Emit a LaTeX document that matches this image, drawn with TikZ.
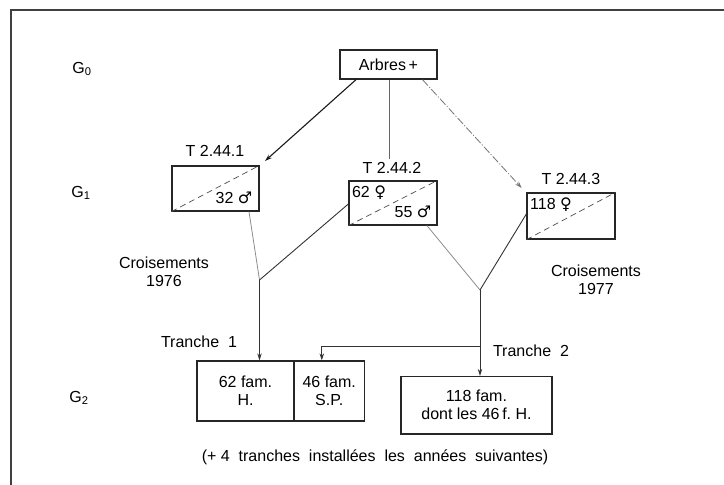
\documentclass[tikz,border=0pt]{standalone}
\usepackage{fontspec}
\setmainfont{Liberation Sans}
\newfontfamily\symfont{DejaVu Sans}
\usetikzlibrary{arrows.meta,calc}
\begin{document}
\begin{tikzpicture}[x=1pt,y=-1pt,
  font=\fontsize{16}{18}\selectfont,
  box/.style={draw=black!85, line width=1.3pt, inner sep=0pt, align=center},
  diag/.style={dash pattern=on 6pt off 4pt, line width=0.7pt, black!70},
  conn/.style={line width=0.9pt, black!80},
  faint/.style={line width=0.8pt, black!45},
  tip/.style={-{Stealth[length=7pt,width=4.5pt]}},
  lab/.style={inner sep=0pt, align=center}
]
\useasboundingbox (0,0) rectangle (724,485);
\draw[line width=1.2pt, black!75] (724,10) -- (11,10) -- (11,485);

% generation labels
\node[lab] (g0) at (82,69) {G\textsubscript{0}};
\node[lab] (g1) at (81,193) {G\textsubscript{1}};
\node[lab] (g2) at (79,398) {G\textsubscript{2}};

% boxes
\node[box, minimum width=97pt, minimum height=29pt] (arbres) at (388.5,64.5) {Arbres\,+};
\node[box, minimum width=87pt, minimum height=45pt] (b1) at (215.5,188.5) {};
\node[box, minimum width=88pt, minimum height=44pt] (b2) at (393,203) {};
\node[box, minimum width=88pt, minimum height=46pt] (b3) at (571,216) {};
\node[box, minimum width=97pt, minimum height=60pt] (h62) at (245.5,391) {62 fam.\\H.};
\node[box, minimum width=70.5pt, minimum height=60pt] (sp46) at (329.25,391) {46 fam.\\S.P.};
\node[box, minimum width=151pt, minimum height=57.5pt] (f118) at (476.5,405.25) {118 fam.\\dont les 46\,f.\ H.};

% box titles
\node[lab] (t1) at (215,151) {T 2.44.1};
\node[lab] (t2) at (392,168) {T 2.44.2};
\node[lab] (t3) at (571,179) {T 2.44.3};

% diagonals
\draw[diag] (b1.south west) -- (b1.north east);
\draw[diag] (b2.south west) -- (b2.north east);
\draw[diag] (b3.south west) -- (b3.north east);

% counts
\node[lab] (c32) at (234,198) {32 {\symfont ♂}};
\node[lab] (c62) at (369,193) {62 {\symfont ♀}};
\node[lab] (c55) at (413,212) {55 {\symfont ♂}};
\node[lab] (c118) at (551,205) {118 {\symfont ♀}};

% other texts
\node[lab] (cr76) at (164,272) {Croisements\\1976};
\node[lab] (cr77) at (596,280) {Croisements\\1977};
\node[lab] (tr1) at (199,342) {Tranche~ 1};
\node[lab] (tr2) at (531,351) {Tranche~ 2};
\node[lab] (note) at (375,457) {(+ 4~ tranches~ installées~ les~ années~ suivantes)};

% coordinates
\coordinate (e1) at (265,161);
\coordinate (e2) at (389,159);
\coordinate (e3) at (521.7,188);
\coordinate (j1) at (259.5,280);
\coordinate (j2) at (480,290);
\coordinate (br) at (480,346.7);
\coordinate (bl) at (321.8,346.7);

% connectors from Arbres
\draw[conn, line width=1.1pt, black!90, tip] ([xshift=-32.5pt]arbres.south) -- (e1);
\draw[faint, black!60] ([xshift=0.5pt]arbres.south) -- (e2);
\draw[faint, black!55, dash pattern=on 8pt off 2pt on 1pt off 2pt, tip] ([xshift=34pt]arbres.south) -- (e3);

% crossings 1976
\draw[faint] ([xshift=33.5pt]b1.south) -- (j1);
\draw[conn] ([yshift=-1pt]b2.west) -- (j1);
\draw[conn, tip] (j1) -- (j1 |- h62.north);

% crossings 1977
\draw[faint] ([xshift=34pt]b2.south) -- (j2);
\draw[conn] ([yshift=2pt]b3.west) -- (j2);
\draw[conn, tip] (j2) -- (j2 |- f118.north);
\draw[conn, tip] (br) -- (bl) -- (bl |- sp46.north);
\end{tikzpicture}
\end{document}
